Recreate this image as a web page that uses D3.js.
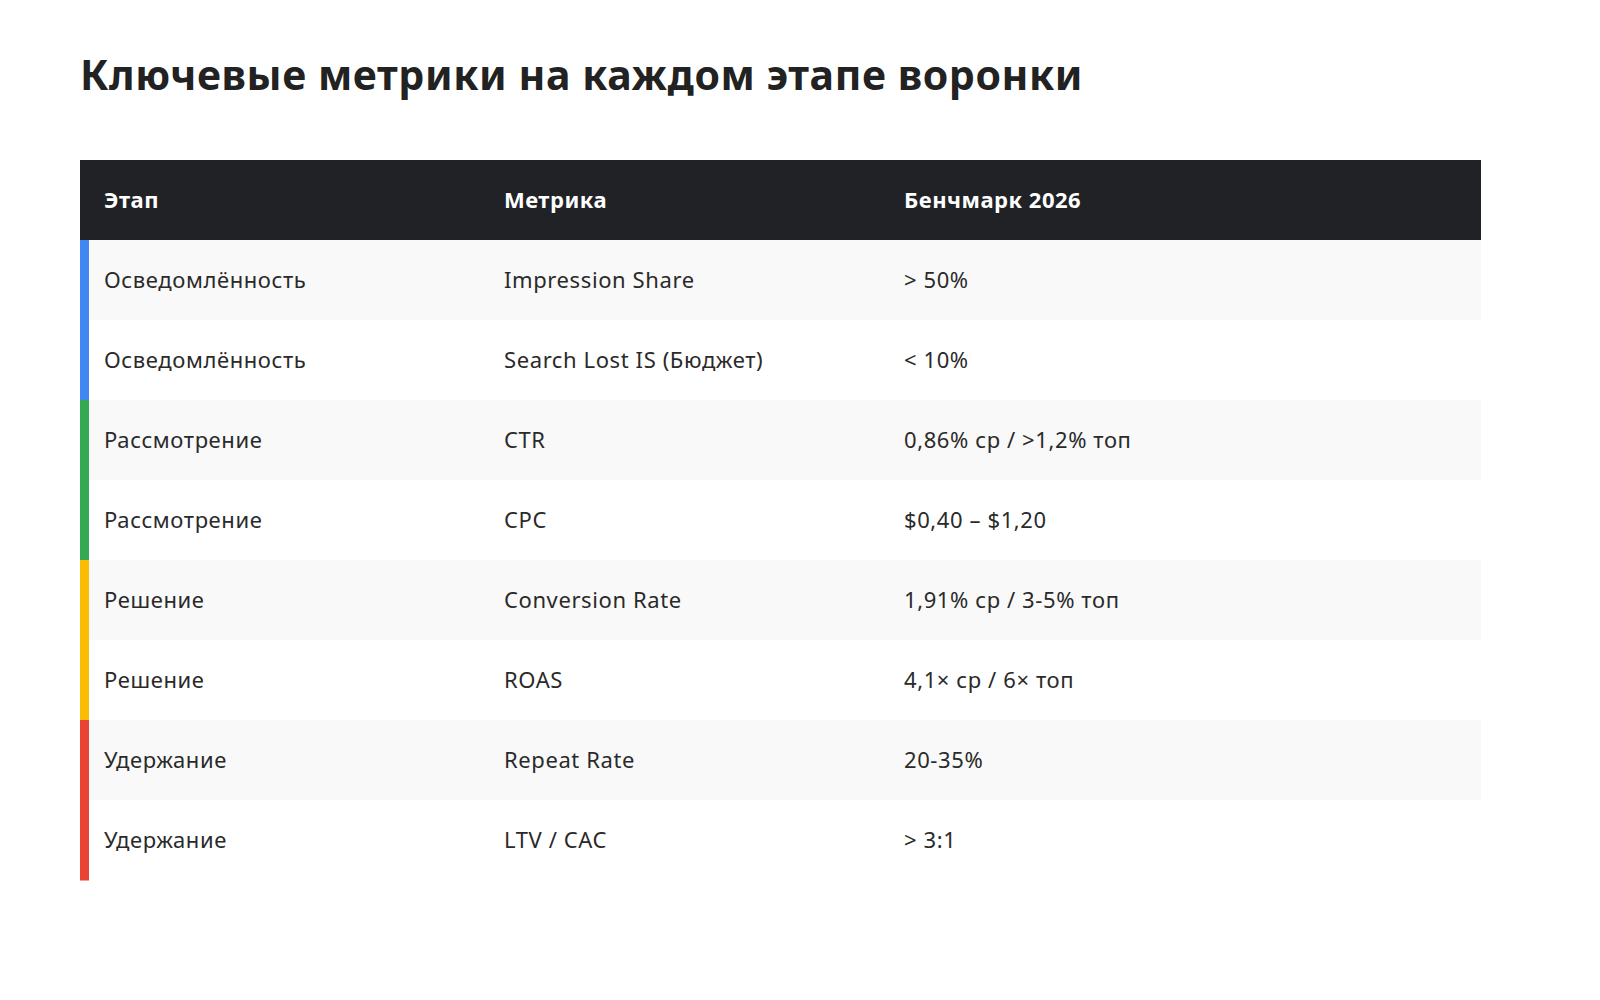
<!DOCTYPE html>
<html><head><meta charset="utf-8">
<script src="https://cdn.jsdelivr.net/npm/d3@7"></script>
<style>body{margin:0;background:#fff;}</style>
</head><body>
<svg id="c" width="1600" height="1000"></svg>
<script>
const headers = ["Этап","Метрика","Бенчмарк 2026"];
const stages = ["Осведомлённость","Осведомлённость","Рассмотрение","Рассмотрение","Решение","Решение","Удержание","Удержание"];
const metrics = ["Impression Share","Search Lost IS (Бюджет)","CTR","CPC","Conversion Rate","ROAS","Repeat Rate","LTV / CAC"];
const benchmarks = ["> 50%","< 10%","0,86% ср / >1,2% топ","$0,40 – $1,20","1,91% ср / 3-5% топ","4,1× ср / 6× топ","20-35%","> 3:1"];
const stageColors = {"Осведомлённость":"#4285F4","Рассмотрение":"#34A853","Решение":"#FBBC05","Удержание":"#EA4335"};

const svg = d3.select("#c");
const font = "'Noto Sans', 'Open Sans', sans-serif";
svg.append("text").attr("x",80).attr("y",90).attr("font-family",font).attr("font-weight",700)
  .attr("font-size",41).attr("letter-spacing",0.6).attr("fill","#222").text("Ключевые метрики на каждом этапе воронки");

const x0=80, x1=1481, headTop=160, headH=80, rowH=80;
const colX = d3.scaleOrdinal().domain([0,1,2]).range([104,504,904]);
const y = d3.scaleBand().domain(d3.range(stages.length)).range([headTop+headH, headTop+headH+rowH*stages.length]);

svg.append("rect").attr("x",x0).attr("y",headTop).attr("width",x1-x0).attr("height",headH).attr("fill","#212226");
headers.forEach((h,i)=>svg.append("text").attr("x",colX(i)).attr("y",headTop+headH/2).attr("dy","0.35em")
  .attr("font-family",font).attr("font-weight",700).attr("font-size",22).attr("letter-spacing",0.5).attr("fill","#fff").text(h));

const rows = svg.selectAll("g.row").data(stages.map((s,i)=>({s,m:metrics[i],b:benchmarks[i],i}))).join("g")
  .attr("transform",d=>`translate(0,${y(d.i)})`);
rows.append("rect").attr("x",x0).attr("width",x1-x0).attr("height",y.bandwidth()+0.5)
  .attr("fill",d=>d.i%2===0?"#f9f9f9":"#fff");
rows.append("rect").attr("x",x0).attr("width",9).attr("height",y.bandwidth()+0.5).attr("fill",d=>stageColors[d.s]);
rows.each(function(d){
  const g=d3.select(this);
  [d.s,d.m,d.b].forEach((t,i)=>g.append("text").attr("x",colX(i)).attr("y",y.bandwidth()/2).attr("dy","0.35em")
    .attr("font-family",font).attr("font-size",22).attr("letter-spacing",0.6).attr("fill","#2a2a2a").text(t));
});
</script>
</body></html>
